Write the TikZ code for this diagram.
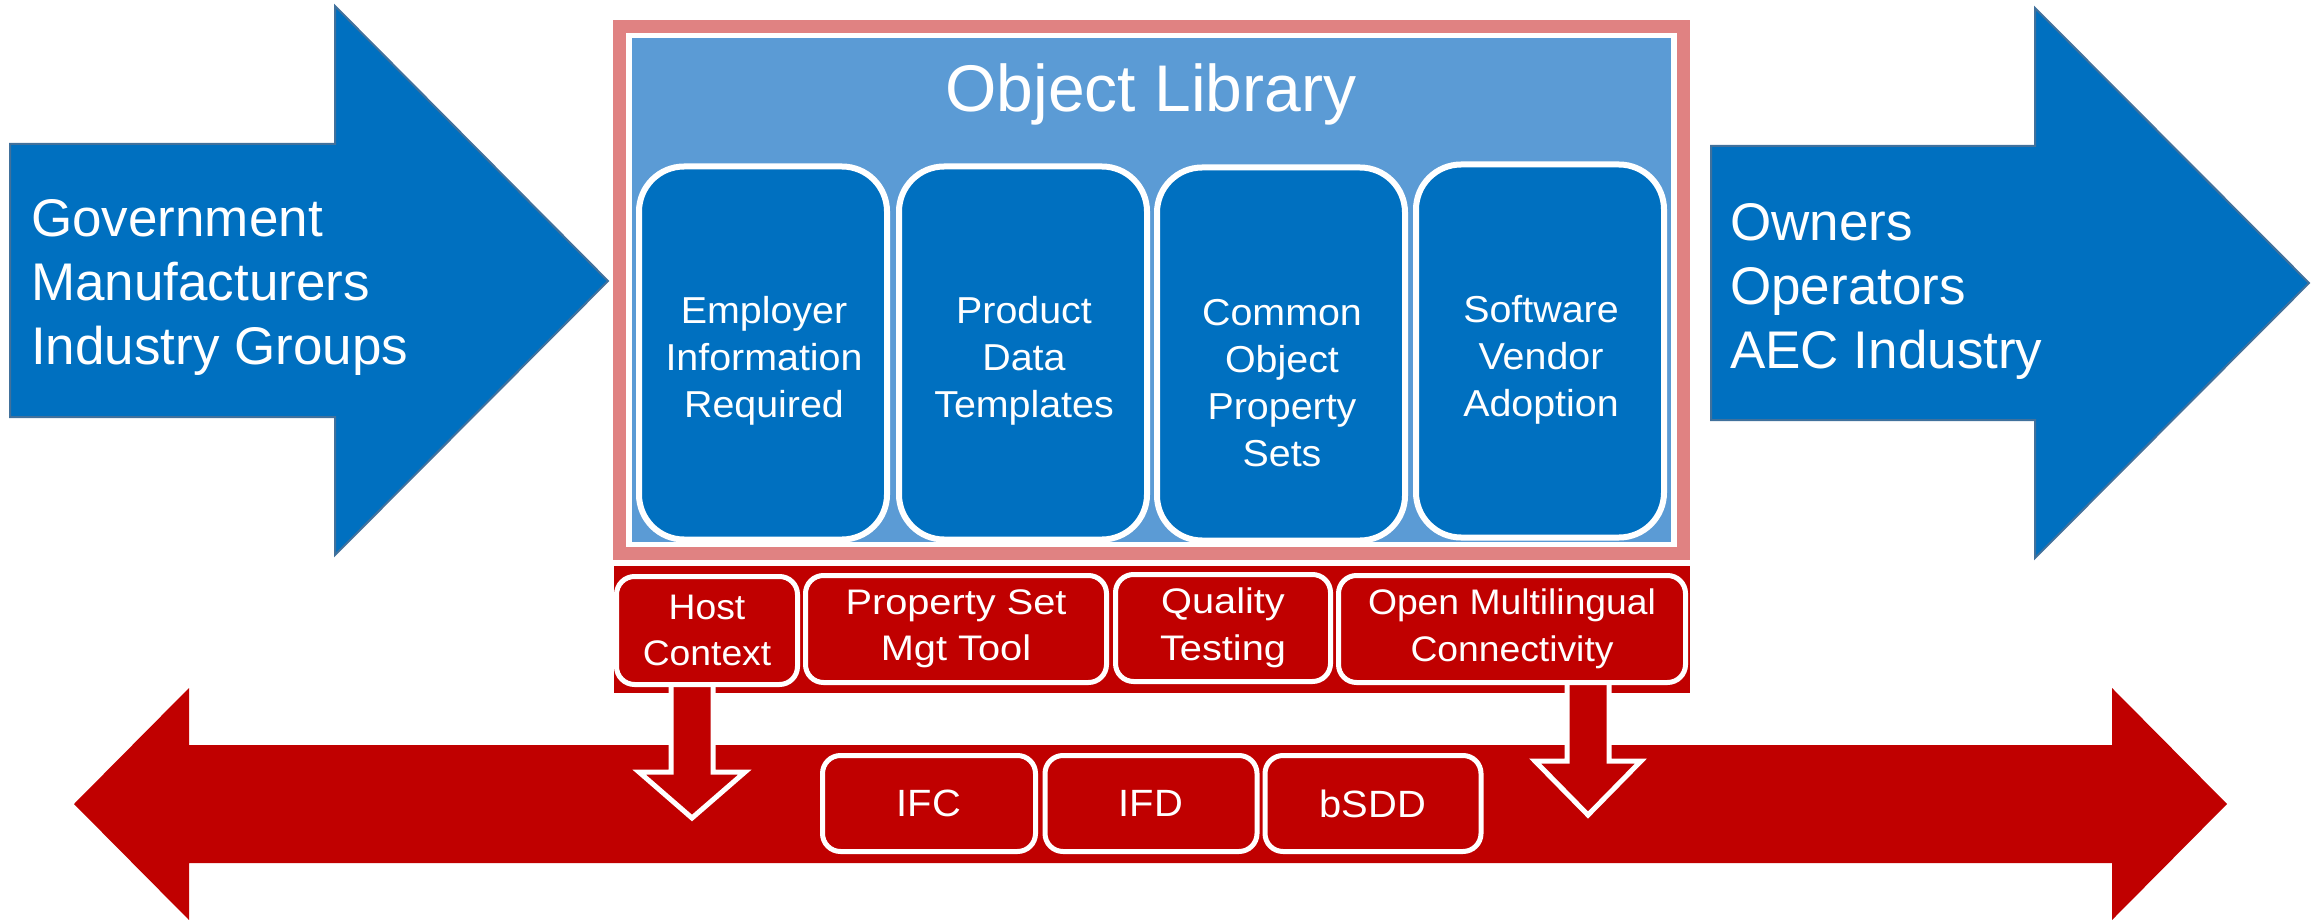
\documentclass[tikz,border=0pt]{standalone}
\usepackage{fontspec}
\setmainfont{Liberation Sans}
\newfontfamily\wideA[FakeStretch=1.05]{Liberation Sans}
\newfontfamily\wideB[FakeStretch=1.12]{Liberation Sans}
\definecolor{arrowblue}{HTML}{0070C0}
\definecolor{edgeblue}{HTML}{41719C}
\definecolor{libblue}{HTML}{5B9BD5}
\definecolor{pinkc}{HTML}{E08282}
\definecolor{barred}{HTML}{C00000}
\begin{document}
\begin{tikzpicture}[x=1pt,y=-1pt,
  bigarrow/.style={fill=arrowblue, draw=edgeblue, line width=2pt},
  bigtxt/.style={text=white, font=\fontsize{53}{64}\selectfont, align=left, inner sep=0pt},
  libbox/.style={fill=arrowblue, draw=white, line width=6pt, rounded corners=45pt, minimum width=248pt, minimum height=373pt, inner sep=0pt},
  boxtxt/.style={text=white, font=\wideA\fontsize{37.5}{47}\selectfont, align=center, inner sep=0pt},
  redbox/.style={fill=barred, draw=white, line width=5pt, rounded corners=18pt, inner sep=0pt, text=white, font=\wideB\fontsize{35.5}{46.5}\selectfont, align=center},
  narrowtxt/.style={font=\wideA\fontsize{35.5}{46.5}\selectfont},
  downarrow/.style={fill=barred, draw=white, line width=5pt},
]
\useasboundingbox (0,0) rectangle (2321,920);
% blue arrows
\draw[bigarrow] (10,144) -- (335,144) -- (335,6) -- (608,281) -- (335,555) -- (335,417) -- (10,417) -- cycle;
\draw[bigarrow] (1711,146) -- (2035,146) -- (2035,8) -- (2309,283) -- (2035,558) -- (2035,420) -- (1711,420) -- cycle;
\node[bigtxt, anchor=north west] (src) at (31,199) {Government\\Manufacturers\\Industry Groups};
\node[bigtxt, anchor=north west] (dst) at (1730,203) {Owners\\Operators\\AEC Industry};
% object library frame
\fill[pinkc] (613,20) rectangle (1690,560);
\fill[white] (626,33) rectangle (1677,547);
\fill[libblue] (632,38) rectangle (1671,542);
\node[text=white, font=\fontsize{66}{70}\selectfont, anchor=base, inner sep=0pt] (title) at (1151,112) {Object Library};
\node[libbox] (b1) at (763,353) {};
\node[libbox] (b2) at (1023,353) {};
\node[libbox] (b3) at (1281,354) {};
\node[libbox] (b4) at (1540,351) {};
\node[boxtxt, anchor=north] (t1) at (764,296) {Employer\\Information\\Required};
\node[boxtxt, anchor=north] (t2) at (1024,296) {Product\\Data\\Templates};
\node[boxtxt, anchor=north] (t3) at (1282,299) {Common\\Object\\Property\\Sets};
\node[boxtxt, anchor=north] (t4) at (1541,295) {Software\\Vendor\\Adoption};
% big red double arrow
\fill[barred] (74,804) -- (189,688) -- (189,745) -- (2112,745) -- (2112,688) -- (2227,804) -- (2112,920) -- (2112,863) -- (189,863) -- (189,920) -- cycle;
% red bar
\fill[barred] (614,566) rectangle (1690,693);
% down arrows
\coordinate (hd) at (692,680);
\coordinate (od) at (1588,680);
\draw[downarrow] ([xshift=-21pt]hd) -- ++(0,92) -- ++(-32,0) -- ++(53,46) -- ++(53,-46) -- ++(-32,0) -- ++(0,-92) -- cycle;
\draw[downarrow] ([xshift=-21pt]od) -- ++(0,81) -- ++(-32,0) -- ++(53,54) -- ++(53,-54) -- ++(-32,0) -- ++(0,-81) -- cycle;
% small red boxes
\node[redbox, narrowtxt, minimum width=181pt, minimum height=108pt] (host) at (707,630.5) {Host\\Context};
\node[redbox, minimum width=301pt, minimum height=107pt] (pset) at (956,629) {Property Set\\Mgt Tool};
\node[redbox, minimum width=215pt, minimum height=107pt] (qual) at (1223,628) {Quality\\Testing};
\node[redbox, narrowtxt, minimum width=347pt, minimum height=107pt] (omc) at (1512,629) {Open Multilingual\\Connectivity};
% standards
\node[redbox, font=\wideA\fontsize{38}{45}\selectfont, minimum width=213pt, minimum height=96pt] (ifc) at (929,803.5) {IFC};
\node[redbox, font=\wideA\fontsize{38}{45}\selectfont, minimum width=212pt, minimum height=96pt] (ifd) at (1151,803.5) {IFD};
\node[redbox, font=\wideA\fontsize{38}{45}\selectfont, minimum width=216pt, minimum height=96pt] (bsdd) at (1373,803.5) {bSDD};
\end{tikzpicture}
\end{document}
